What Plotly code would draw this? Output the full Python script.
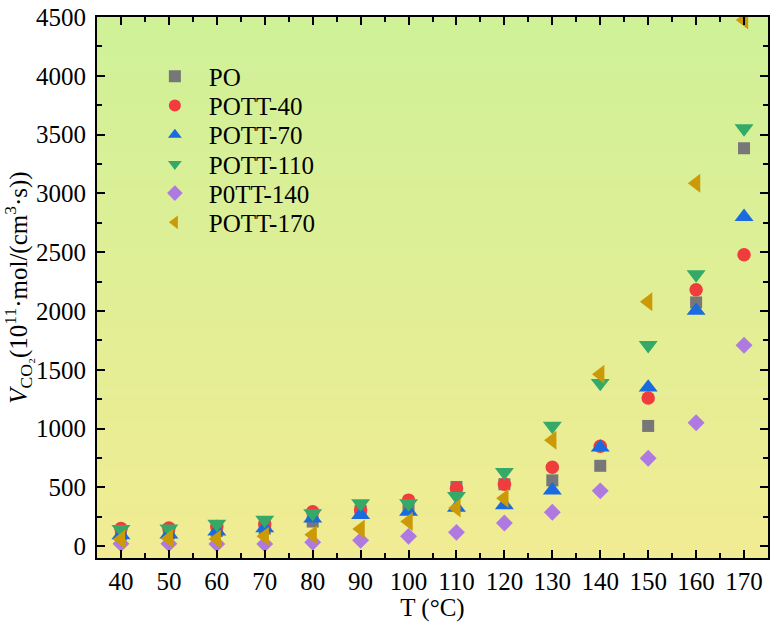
import plotly.graph_objects as go

temps = [40, 50, 60, 70, 80, 90, 100, 110, 120, 130, 140, 150, 160, 170]
po      = [100, 110, 130, 150, 210, 300, 336, 504, 527, 560, 684, 1023, 2073, 3384]
pott40  = [150, 155, 168, 190, 294, 308, 392, 490, 527, 672, 850, 1260, 2180, 2479]
pott70  = [95, 100, 126, 154, 238, 266, 294, 328, 350, 476, 840, 1350, 2003, 2801]
pott110 = [145, 150, 190, 224, 280, 364, 364, 426, 630, 1023, 1387, 1709, 2311, 3552]
pott140 = [22, 22, 20, 20, 34, 50, 84, 118, 197, 289, 471, 748, 1050, 1709]
pott170 = [60, 65, 62, 84, 98, 146, 210, 325, 407, 902, 1462, 2079, 3087, 4475]

series = [
    ("PO", po, "square", "#777777", 12),
    ("POTT-40", pott40, "circle", "#f03c3c", 13.5),
    ("POTT-70", pott70, "triangle-up", "#1a6ae0", 16.5),
    ("POTT-110", pott110, "triangle-down", "#35aa68", 16.5),
    ("P0TT-140", pott140, "diamond", "#ae7ae0", 13),
    ("POTT-170", pott170, "triangle-left", "#cc9a08", 16.5),
]

font_family = "Liberation Serif"
FS = 25

# plot area in pixels (for legend placement)
PT, PB, PL, PR = 12, 558, 97, 770
legend_rows_px = [72, 101.5, 131, 160.5, 190, 219.5]
legend_left_px = 141

fig = go.Figure()
legend_layouts = {}
for i, (name, vals, sym, col, sz) in enumerate(series):
    lname = "legend" if i == 0 else "legend%d" % (i + 1)
    fig.add_trace(go.Scatter(
        x=temps, y=vals, mode="markers", name=name,
        marker=dict(symbol=sym, color=col, size=sz, line=dict(width=0)),
        cliponaxis=True, legend=lname,
    ))
    legend_layouts[lname] = dict(
        x=(legend_left_px - PL) / (PR - PL),
        y=1 - (legend_rows_px[i] - PT) / (PB - PT),
        xanchor="left", yanchor="middle",
        bgcolor="rgba(0,0,0,0)", borderwidth=0,
        font=dict(family=font_family, size=FS, color="black"),
        itemsizing="constant", itemwidth=58, tracegroupgap=0,
    )

# vertical gradient background (green top -> yellow bottom)
top = (207, 241, 152)
bot = (241, 236, 147)
n = 80
shapes = []
for i in range(n):
    t = i / (n - 1)
    c = tuple(round(bot[k] + (top[k] - bot[k]) * t) for k in range(3))
    shapes.append(dict(
        type="rect", xref="x domain", yref="y domain",
        x0=0, x1=1, y0=i / n, y1=(i + 1) / n + 0.002,
        fillcolor="rgb(%d,%d,%d)" % c, line=dict(width=0), layer="below",
    ))

fig.update_layout(
    width=774, height=622,
    margin=dict(l=PL, r=774 - PR, t=PT, b=622 - PB),
    paper_bgcolor="white",
    plot_bgcolor="rgba(0,0,0,0)",
    shapes=shapes,
    font=dict(family=font_family, size=FS, color="black"),
    showlegend=True,
    **legend_layouts,
    xaxis=dict(
        range=[35, 175], tickvals=[40, 50, 60, 70, 80, 90, 100, 110, 120, 130, 140, 150, 160, 170],
        ticks="inside", ticklen=8, tickwidth=2, tickcolor="black",
        showline=True, linewidth=2, linecolor="black", mirror="allticks",
        showgrid=False, zeroline=False,
        minor=dict(ticks="inside", ticklen=5, tickwidth=2, tickcolor="black", dtick=5, tick0=35, showgrid=False),
        title=dict(text="T (°C)", standoff=0, font=dict(family=font_family, size=FS)),
        tickfont=dict(family=font_family, size=FS),
        ticklabeloverflow="allow",
    ),
    yaxis=dict(
        range=[-100, 4500], tick0=0, dtick=500,
        ticks="inside", ticklen=8, tickwidth=2, tickcolor="black",
        showline=True, linewidth=2, linecolor="black", mirror="allticks",
        showgrid=False, zeroline=False,
        minor=dict(ticks="inside", ticklen=5, tickwidth=2, tickcolor="black", dtick=250, tick0=0, showgrid=False),
        title=dict(text="<i>V</i><sub>CO₂</sub>(10<sup>11</sup>·mol/(cm<sup>3</sup>·s))", standoff=2,
                   font=dict(family=font_family, size=FS)),
        tickfont=dict(family=font_family, size=FS),
        ticklabeloverflow="allow", ticklabelstandoff=4,
    ),
)

fig.write_html("out.html")
